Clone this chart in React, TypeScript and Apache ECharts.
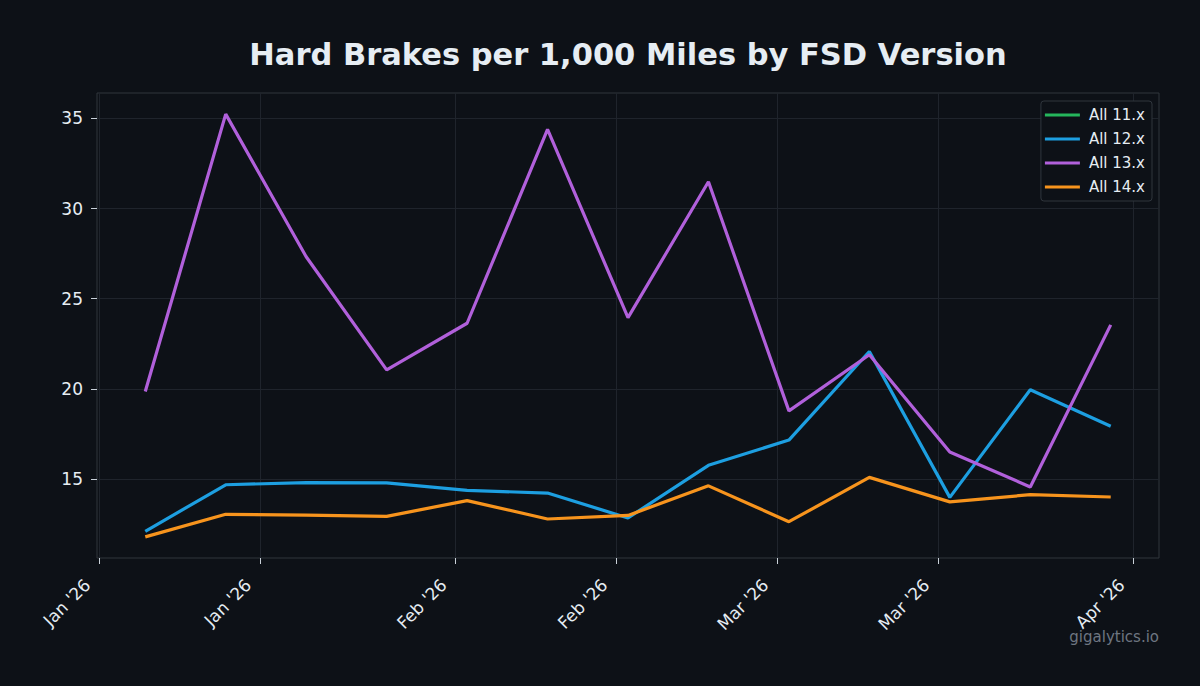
import React, { useEffect, useRef } from "react";
import * as echarts from "echarts";

const weeks = [
  "2026-01-05", "2026-01-12", "2026-01-19", "2026-01-26", "2026-02-02",
  "2026-02-09", "2026-02-16", "2026-02-23", "2026-03-02", "2026-03-09",
  "2026-03-16", "2026-03-23", "2026-03-30",
];
const v11: number[] = [];
const v12 = [12.1, 14.68, 14.8, 14.78, 14.37, 14.22, 12.84, 15.76, 17.16, 22.07, 13.98, 19.95, 17.93];
const v13 = [19.85, 35.24, 27.33, 21.05, 23.64, 34.39, 23.95, 31.49, 18.78, 21.89, 16.5, 14.56, 23.55];
const v14 = [11.79, 13.04, 13.0, 12.93, 13.8, 12.78, 12.98, 14.62, 12.63, 15.09, 13.73, 14.13, 14.0];
const xTickDates = ["2026-01-01", "2026-01-15", "2026-02-01", "2026-02-15", "2026-03-01", "2026-03-15", "2026-04-01"];
const yTicks = [15, 20, 25, 30, 35];
const seriesNames = ["All 11.x", "All 12.x", "All 13.x", "All 14.x"];
const seriesColors = ["#25b65c", "#1d9fe1", "#b160db", "#f7941d"];
const months = ["Jan", "Feb", "Mar", "Apr", "May", "Jun", "Jul", "Aug", "Sep", "Oct", "Nov", "Dec"];

const ts = (s: string) => new Date(s + "T00:00:00Z").getTime();

export default function App() {
  const ref = useRef<HTMLDivElement>(null);
  useEffect(() => {
    document.body.style.margin = "0";
    document.body.style.background = "#0d1117";
    const chart = echarts.init(ref.current!, null, { renderer: "svg" });
    const xs = weeks.map(ts);
    const span = xs[xs.length - 1] - xs[0];
    const xMin = xs[0] - span * 0.05;
    const xMax = xs[xs.length - 1] + span * 0.05;
    const all = [...v12, ...v13, ...v14];
    const dMin = Math.min(...all);
    const dMax = Math.max(...all);
    const yMin = dMin - (dMax - dMin) * 0.05;
    const yMax = dMax + (dMax - dMin) * 0.05;
    const font = "DejaVu Sans";
    const data = [v11, v12, v13, v14];
    chart.setOption({
      animation: false,
      backgroundColor: "#0d1117",
      grid: {
        left: 97,
        right: 41,
        top: 93,
        bottom: 128,
        show: true,
        borderColor: "#30363d",
        borderWidth: 1,
        backgroundColor: "transparent",
      },
      legend: {
        orient: "vertical",
        right: 48,
        top: 101,
        padding: [6, 7, 6, 4],
        icon: "rect",
        itemWidth: 35,
        itemHeight: 3,
        itemGap: 8,
        backgroundColor: "#0d1117",
        borderColor: "#30363d",
        borderWidth: 1,
        borderRadius: 3,
        textStyle: { color: "#e6edf3", fontFamily: font, fontSize: 15, lineHeight: 16, padding: [0, 0, 0, 4] },
        data: seriesNames,
      },
      xAxis: {
        type: "value",
        min: xMin,
        max: xMax,
        axisLine: { show: false },
        axisTick: {
          show: true,
          length: 6,
          lineStyle: { color: "#c9d1d9", width: 1 },
          customValues: xTickDates.map(ts),
        },
        axisLabel: {
          rotate: 45,
          margin: 12,
          padding: [0, 17, 0, 0],
          color: "#e6edf3",
          fontFamily: font,
          fontSize: 17,
          customValues: xTickDates.map(ts),
          formatter: (v: number) => {
            const d = new Date(v);
            return months[d.getUTCMonth()] + " '" + String(d.getUTCFullYear()).slice(2);
          },
        },
        splitLine: { show: true, lineStyle: { color: "#1f242c", width: 1 } },
      },
      yAxis: {
        type: "value",
        min: yMin,
        max: yMax,
        axisLine: { show: false },
        axisTick: {
          show: true,
          length: 6,
          lineStyle: { color: "#c9d1d9", width: 1 },
          customValues: yTicks,
        },
        axisLabel: {
          margin: 14,
          color: "#e6edf3",
          fontFamily: font,
          fontSize: 17,
          customValues: yTicks,
        },
        splitLine: { show: true, lineStyle: { color: "#1f242c", width: 1 } },
      },
      series: seriesNames.map((name, i) => ({
        name,
        type: "line",
        symbol: "none",
        color: seriesColors[i],
        itemStyle: { color: seriesColors[i] },
        lineStyle: { color: seriesColors[i], width: 3.2 },
        data: data[i].map((v, j) => [xs[j], v]),
      })),
      graphic: [
        {
          type: "text",
          x: 628,
          y: 54,
          style: {
            text: "Hard Brakes per 1,000 Miles by FSD Version",
            fill: "#e6edf3",
            font: `bold 30.5px "${font}"`,
            textAlign: "center",
            textVerticalAlign: "middle",
          },
        },
        {
          type: "text",
          x: 1159,
          y: 637,
          style: {
            text: "gigalytics.io",
            fill: "#6e7681",
            font: `15px "${font}"`,
            textAlign: "right",
            textVerticalAlign: "middle",
          },
        },
      ],
    });
    return () => chart.dispose();
  }, []);
  return <div ref={ref} style={{ width: 1200, height: 686 }} />;
}
